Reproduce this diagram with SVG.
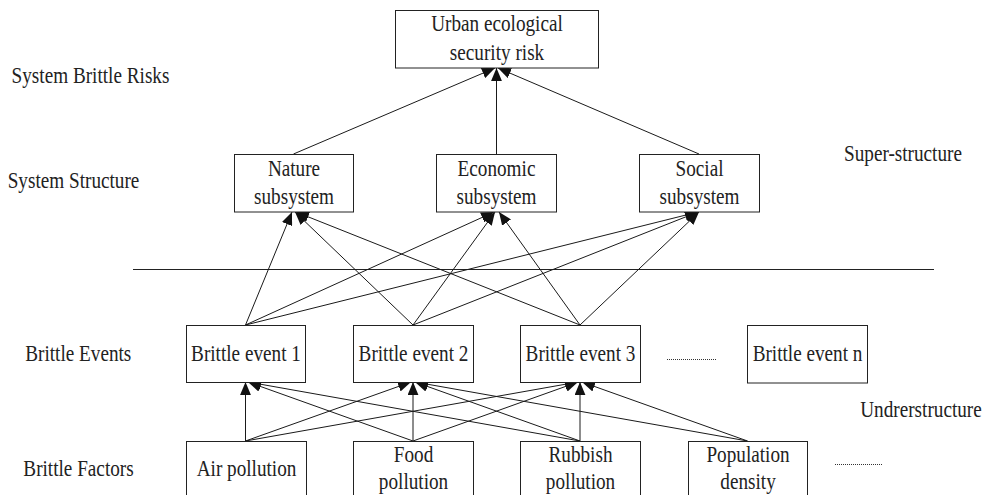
<svg xmlns="http://www.w3.org/2000/svg" width="985" height="495" viewBox="0 0 985 495" font-family="'Liberation Serif', 'DejaVu Serif', serif">
<defs>
<marker id="arr" viewBox="0 0 12 10" refX="12" refY="5" markerWidth="13" markerHeight="11" markerUnits="userSpaceOnUse" orient="auto">
<path d="M0,0 L12,5 L0,10 z" fill="#111"/>
</marker>
</defs>
<style>
.box{fill:#fff;stroke:#222;stroke-width:1}
.t{font-family:'Liberation Serif','DejaVu Serif',serif;font-size:23px;fill:#222;text-anchor:middle;transform-box:fill-box;transform-origin:center;transform:scaleX(0.835)}
.conn line{stroke:#1a1a1a;stroke-width:1;marker-end:url(#arr)}
.plain{stroke:#222;stroke-width:1;fill:none}
.dots{stroke:#333;stroke-width:1;stroke-dasharray:1 1;fill:none}
</style>
<rect width="985" height="495" fill="#fff"/>

<g id="labels">
<text class="t" x="90.5" y="83">System Brittle Risks</text>
<text class="t" x="73.5" y="188">System Structure</text>
<text class="t" x="78.3" y="361">Brittle Events</text>
<text class="t" x="78.5" y="476">Brittle Factors</text>
<text class="t" x="903" y="161">Super-structure</text>
<text class="t" x="921" y="417">Undrerstructure</text>
</g>

<line class="plain" x1="133" y1="269.5" x2="934" y2="269.5"/>
<line class="dots" x1="667" y1="359.5" x2="716" y2="359.5"/>
<line class="dots" x1="835" y1="464.5" x2="883" y2="464.5"/>

<g id="connectors" class="conn">
<line x1="293.5" y1="154" x2="495" y2="68"/>
<line x1="496.5" y1="154" x2="496.5" y2="68"/>
<line x1="699" y1="154" x2="498" y2="68"/>

<line x1="245.5" y1="325" x2="292" y2="212"/>
<line x1="413" y1="325" x2="295" y2="212"/>
<line x1="580" y1="325" x2="296" y2="212"/>
<line x1="245.5" y1="325" x2="494" y2="212"/>
<line x1="413" y1="325" x2="495" y2="212"/>
<line x1="580" y1="325" x2="499" y2="212"/>
<line x1="245.5" y1="325" x2="698" y2="212"/>
<line x1="413" y1="325" x2="698" y2="212"/>
<line x1="580" y1="325" x2="699" y2="212"/>

<line x1="245.5" y1="441" x2="245.5" y2="382"/>
<line x1="245.5" y1="441" x2="411" y2="382"/>
<line x1="245.5" y1="441" x2="578" y2="382"/>
<line x1="413" y1="441" x2="248" y2="382"/>
<line x1="413" y1="441" x2="413" y2="382"/>
<line x1="413" y1="441" x2="578" y2="382"/>
<line x1="580" y1="441" x2="248" y2="382"/>
<line x1="580" y1="441" x2="415" y2="382"/>
<line x1="580" y1="441" x2="580" y2="382"/>
<line x1="747.5" y1="441" x2="415" y2="382"/>
<line x1="747.5" y1="441" x2="582" y2="382"/>
</g>

<g id="urban-risk">
<rect class="box" x="395.5" y="10.5" width="203" height="57.5"/>
<text class="t" x="497" y="31.5">Urban ecological</text>
<text class="t" x="497" y="60">security risk</text>
</g>

<g id="nature">
<rect class="box" x="234.5" y="154.5" width="119" height="57.5"/>
<text class="t" x="294" y="176">Nature</text>
<text class="t" x="294" y="204">subsystem</text>
</g>
<g id="economic">
<rect class="box" x="436.5" y="154.5" width="120" height="57.5"/>
<text class="t" x="496.5" y="176">Economic</text>
<text class="t" x="496.5" y="204">subsystem</text>
</g>
<g id="social">
<rect class="box" x="639.5" y="154.5" width="120" height="57.5"/>
<text class="t" x="699.5" y="176">Social</text>
<text class="t" x="699.5" y="204">subsystem</text>
</g>

<g id="event1">
<rect class="box" x="186.5" y="325.5" width="119" height="57"/>
<text class="t" x="246" y="361">Brittle event 1</text>
</g>
<g id="event2">
<rect class="box" x="353.5" y="325.5" width="120" height="57"/>
<text class="t" x="413.5" y="361">Brittle event 2</text>
</g>
<g id="event3">
<rect class="box" x="520.5" y="325.5" width="120" height="57"/>
<text class="t" x="580.5" y="361">Brittle event 3</text>
</g>
<g id="eventn">
<rect class="box" x="747.5" y="325.5" width="120" height="57.5"/>
<text class="t" x="807.5" y="361">Brittle event n</text>
</g>

<g id="air">
<rect class="box" x="186.5" y="441.5" width="120" height="60"/>
<text class="t" x="246.5" y="476">Air pollution</text>
</g>
<g id="food">
<rect class="box" x="353.5" y="441.5" width="120" height="60"/>
<text class="t" x="413.5" y="462">Food</text>
<text class="t" x="413.5" y="489">pollution</text>
</g>
<g id="rubbish">
<rect class="box" x="520.5" y="441.5" width="120" height="60"/>
<text class="t" x="580.5" y="462">Rubbish</text>
<text class="t" x="580.5" y="489">pollution</text>
</g>
<g id="population">
<rect class="box" x="688.5" y="441.5" width="119" height="60"/>
<text class="t" x="748" y="462">Population</text>
<text class="t" x="748" y="489">density</text>
</g>
</svg>
